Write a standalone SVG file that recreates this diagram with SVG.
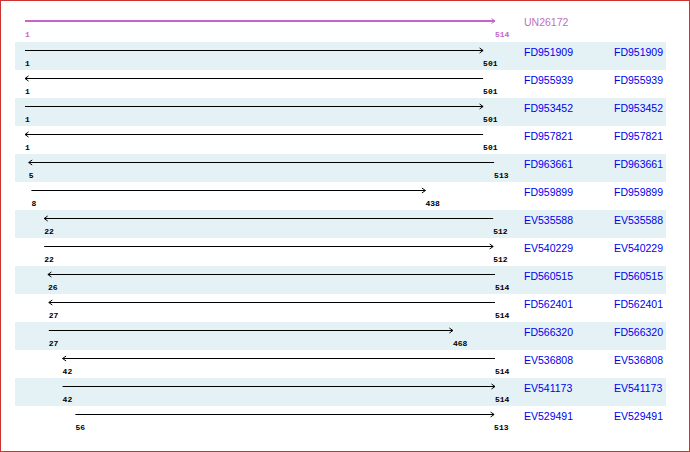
<svg xmlns="http://www.w3.org/2000/svg" width="690" height="452" viewBox="0 0 690 452">
<style>
.band{fill:#e4f1f5}
.ln{stroke:#000;stroke-width:1;fill:none}
.fw{marker-end:url(#ah)}
.rv{marker-start:url(#ah)}
.num{font-family:"Liberation Mono",monospace;font-size:8px;font-weight:bold;fill:#000}
.lab{font-family:"Liberation Sans",Arial,sans-serif;font-size:10.5px;fill:#0000ee}
</style>
<defs>
<marker id="ah" markerUnits="userSpaceOnUse" markerWidth="8" markerHeight="8" viewBox="-5 -4 6 8" refX="0" refY="0" orient="auto-start-reverse">
<path d="M-3.5,-2.5 L0,0 L-3.5,2.5" fill="none" stroke="#000" stroke-width="1"/>
</marker>
<marker id="ahp" markerUnits="userSpaceOnUse" markerWidth="8" markerHeight="8" viewBox="-5 -4 6 8" refX="0" refY="0" orient="auto-start-reverse">
<path d="M-3.5,-2.5 L0,0 L-3.5,2.5" fill="none" stroke="#c864c8" stroke-width="1"/>
</marker>
</defs>
<rect x="0.5" y="0.5" width="689" height="451" fill="#fff" stroke="#c33" stroke-width="1"/>
<g id="bands">
<rect class="band" x="15" y="42" width="651" height="28"/>
<rect class="band" x="15" y="98" width="651" height="28"/>
<rect class="band" x="15" y="154" width="651" height="28"/>
<rect class="band" x="15" y="210" width="651" height="28"/>
<rect class="band" x="15" y="266" width="651" height="28"/>
<rect class="band" x="15" y="322" width="651" height="28"/>
<rect class="band" x="15" y="378" width="651" height="28"/>
</g>
<g id="UN26172">
<line x1="25" y1="21" x2="495" y2="21" stroke="#c864c8" stroke-width="2" marker-end="url(#ahp)"/>
<text class="num" x="25" y="37" style="fill:#c864c8">1</text>
<text class="num" x="495" y="37" style="fill:#c864c8">514</text>
<text class="lab" x="524" y="26" style="fill:#c070c0">UN26172</text>
</g>
<g id="connectors">
<line class="ln fw" x1="25" y1="50.5" x2="483.1" y2="50.5"/>
<line class="ln rv" x1="25" y1="78.5" x2="483.1" y2="78.5"/>
<line class="ln fw" x1="25" y1="106.5" x2="483.1" y2="106.5"/>
<line class="ln rv" x1="25" y1="134.5" x2="483.1" y2="134.5"/>
<line class="ln rv" x1="28.7" y1="162.5" x2="494.1" y2="162.5"/>
<line class="ln fw" x1="31.4" y1="190.5" x2="425.4" y2="190.5"/>
<line class="ln rv" x1="44.2" y1="218.5" x2="493.2" y2="218.5"/>
<line class="ln fw" x1="44.2" y1="246.5" x2="493.2" y2="246.5"/>
<line class="ln rv" x1="47.9" y1="274.5" x2="495" y2="274.5"/>
<line class="ln rv" x1="48.8" y1="302.5" x2="495" y2="302.5"/>
<line class="ln fw" x1="48.8" y1="330.5" x2="452.9" y2="330.5"/>
<line class="ln rv" x1="62.6" y1="358.5" x2="495" y2="358.5"/>
<line class="ln fw" x1="62.6" y1="386.5" x2="495" y2="386.5"/>
<line class="ln fw" x1="75.4" y1="414.5" x2="494.1" y2="414.5"/>
</g>
<g id="FD951909"><text class="num" x="25" y="66">1</text><text class="num" x="483.1" y="66">501</text><text class="lab" x="524" y="56">FD951909</text><text class="lab" x="614" y="56">FD951909</text></g>
<g id="FD955939"><text class="num" x="25" y="94">1</text><text class="num" x="483.1" y="94">501</text><text class="lab" x="524" y="84">FD955939</text><text class="lab" x="614" y="84">FD955939</text></g>
<g id="FD953452"><text class="num" x="25" y="122">1</text><text class="num" x="483.1" y="122">501</text><text class="lab" x="524" y="112">FD953452</text><text class="lab" x="614" y="112">FD953452</text></g>
<g id="FD957821"><text class="num" x="25" y="150">1</text><text class="num" x="483.1" y="150">501</text><text class="lab" x="524" y="140">FD957821</text><text class="lab" x="614" y="140">FD957821</text></g>
<g id="FD963661"><text class="num" x="28.7" y="178">5</text><text class="num" x="494.1" y="178">513</text><text class="lab" x="524" y="168">FD963661</text><text class="lab" x="614" y="168">FD963661</text></g>
<g id="FD959899"><text class="num" x="31.4" y="206">8</text><text class="num" x="425.4" y="206">438</text><text class="lab" x="524" y="196">FD959899</text><text class="lab" x="614" y="196">FD959899</text></g>
<g id="EV535588"><text class="num" x="44.2" y="234">22</text><text class="num" x="493.2" y="234">512</text><text class="lab" x="524" y="224">EV535588</text><text class="lab" x="614" y="224">EV535588</text></g>
<g id="EV540229"><text class="num" x="44.2" y="262">22</text><text class="num" x="493.2" y="262">512</text><text class="lab" x="524" y="252">EV540229</text><text class="lab" x="614" y="252">EV540229</text></g>
<g id="FD560515"><text class="num" x="47.9" y="290">26</text><text class="num" x="495" y="290">514</text><text class="lab" x="524" y="280">FD560515</text><text class="lab" x="614" y="280">FD560515</text></g>
<g id="FD562401"><text class="num" x="48.8" y="318">27</text><text class="num" x="495" y="318">514</text><text class="lab" x="524" y="308">FD562401</text><text class="lab" x="614" y="308">FD562401</text></g>
<g id="FD566320"><text class="num" x="48.8" y="346">27</text><text class="num" x="452.9" y="346">468</text><text class="lab" x="524" y="336">FD566320</text><text class="lab" x="614" y="336">FD566320</text></g>
<g id="EV536808"><text class="num" x="62.6" y="374">42</text><text class="num" x="495" y="374">514</text><text class="lab" x="524" y="364">EV536808</text><text class="lab" x="614" y="364">EV536808</text></g>
<g id="EV541173"><text class="num" x="62.6" y="402">42</text><text class="num" x="495" y="402">514</text><text class="lab" x="524" y="392">EV541173</text><text class="lab" x="614" y="392">EV541173</text></g>
<g id="EV529491"><text class="num" x="75.4" y="430">56</text><text class="num" x="494.1" y="430">513</text><text class="lab" x="524" y="420">EV529491</text><text class="lab" x="614" y="420">EV529491</text></g>
</svg>
